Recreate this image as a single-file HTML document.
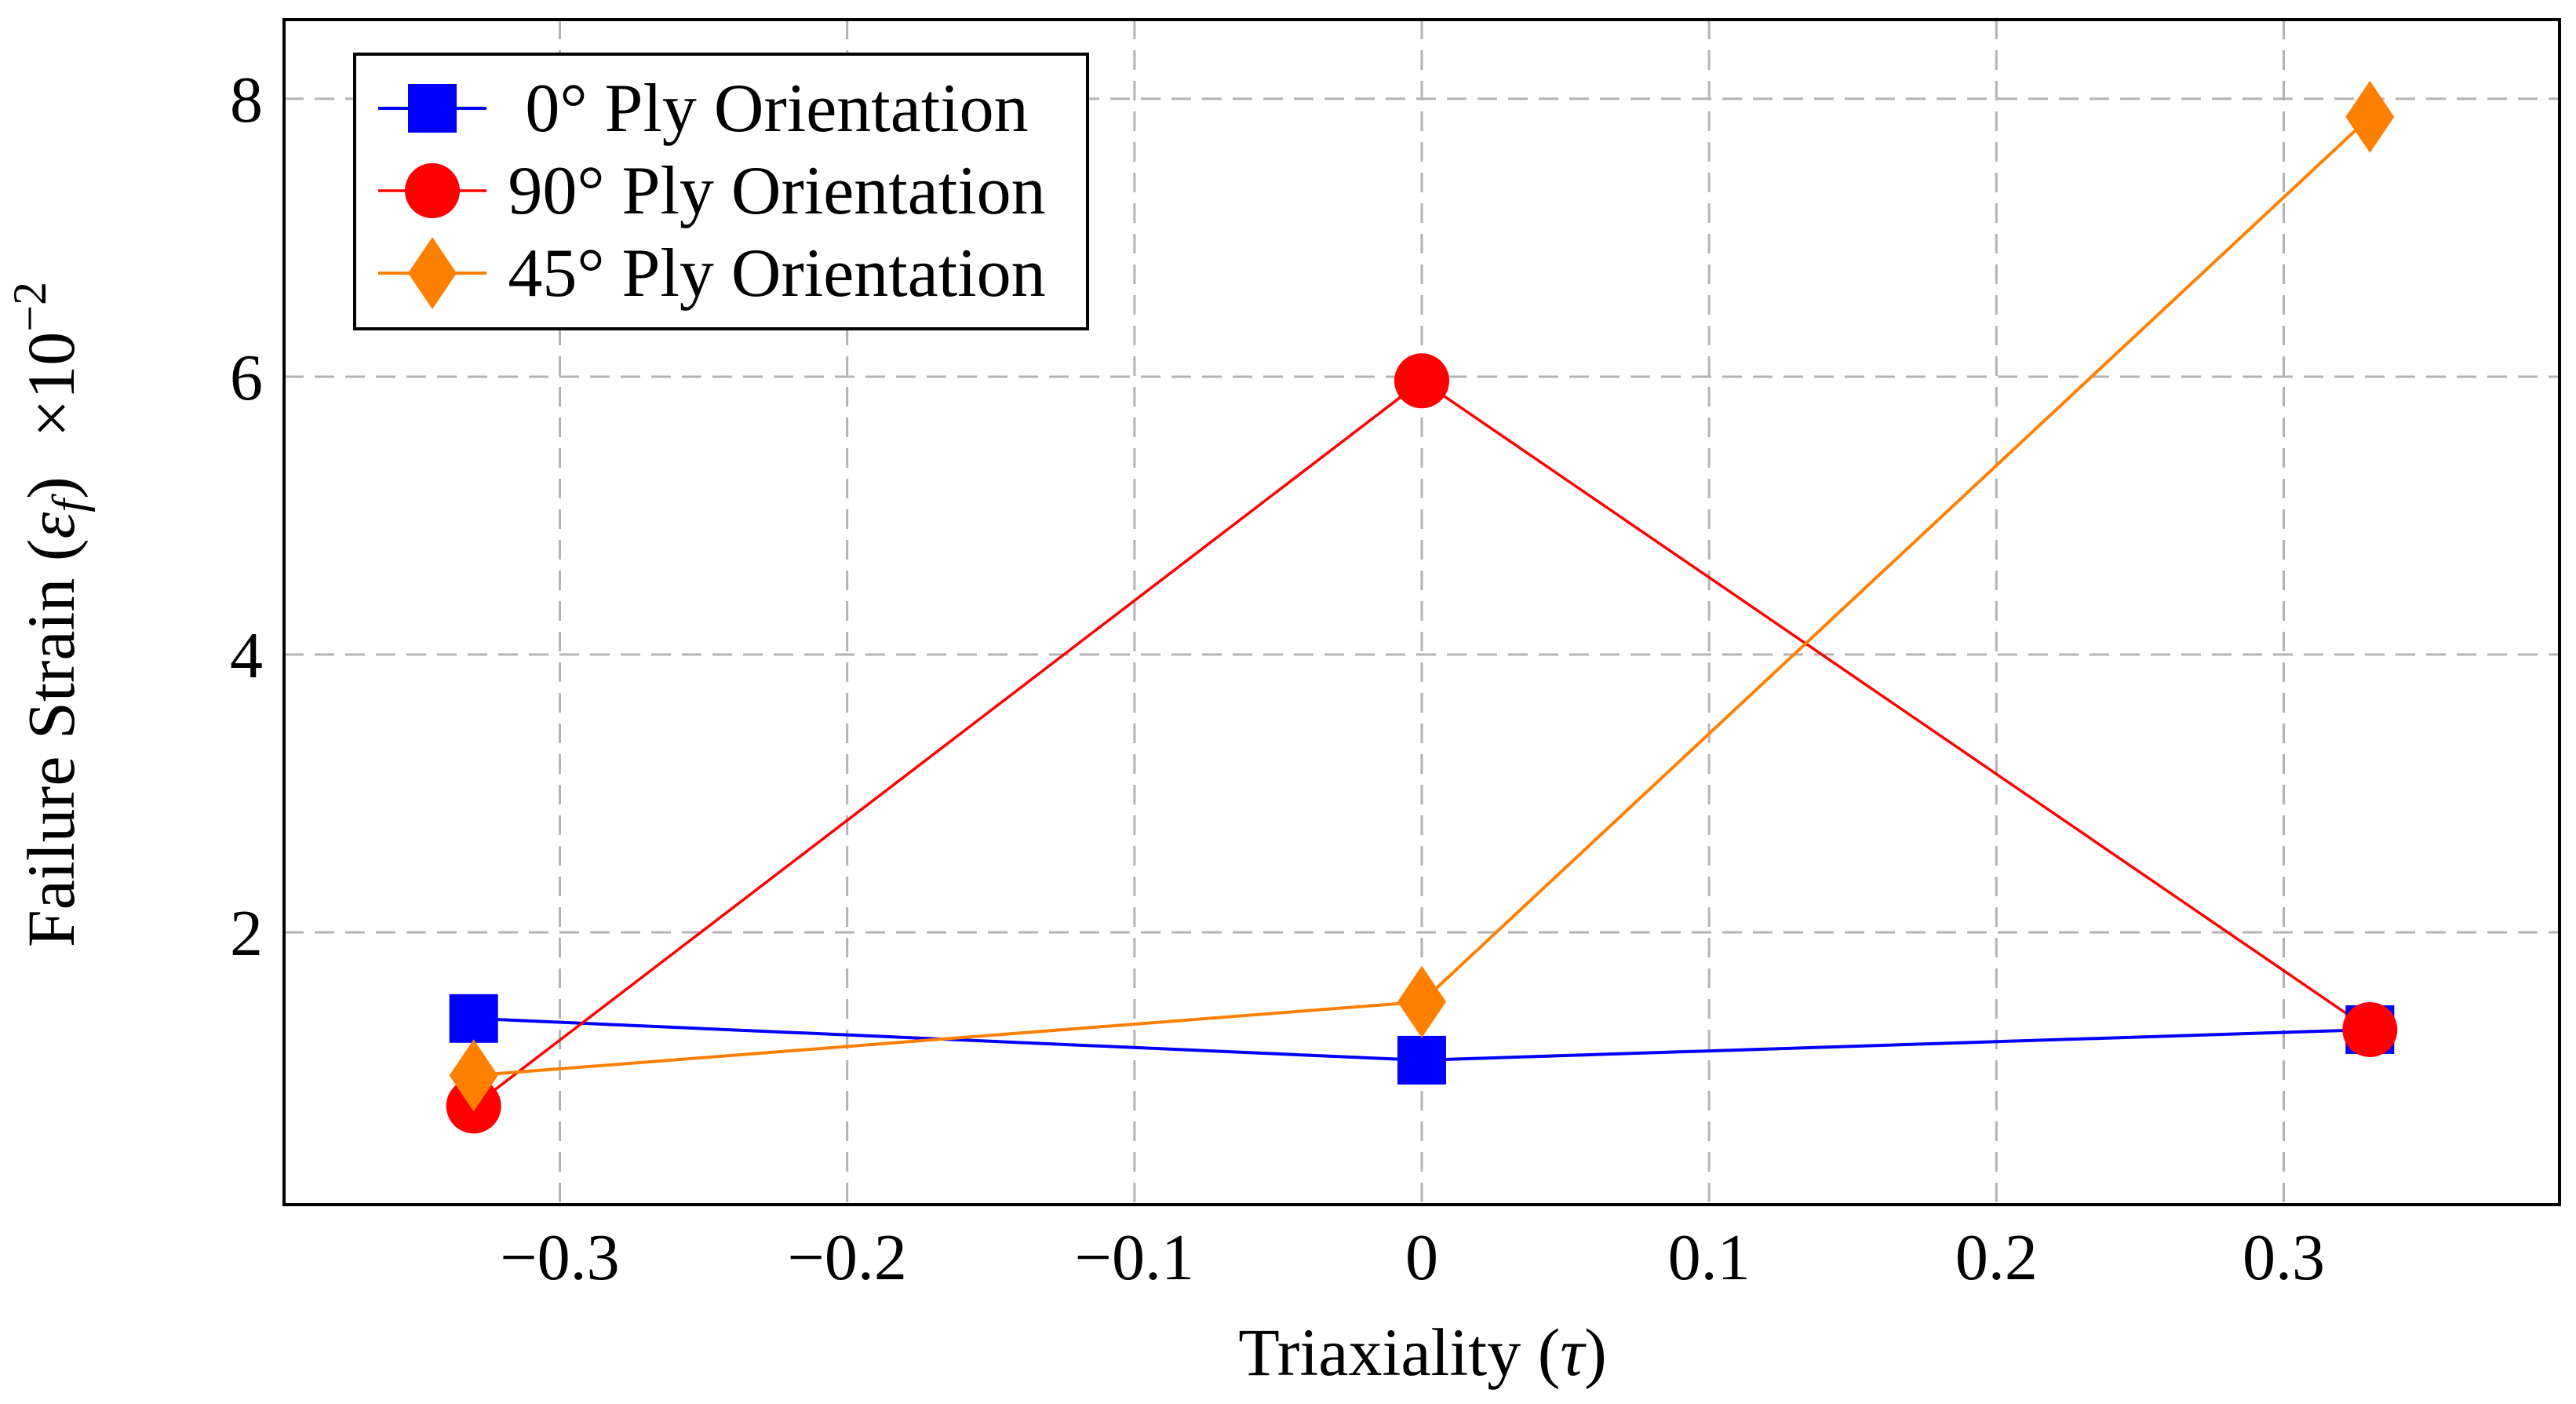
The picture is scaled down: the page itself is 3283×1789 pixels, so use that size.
<!DOCTYPE html>
<html><head><meta charset="utf-8"><style>
html,body{margin:0;padding:0;background:#fff;}
svg{display:block;font-family:"Liberation Serif",serif;}
</style></head><body>
<svg id="chart" width="3283" height="1789" viewBox="0 0 3283 1789" xmlns="http://www.w3.org/2000/svg">
<g id="grid"></g>
<g id="series"></g>
<rect x="362" y="25" width="2900" height="1510" fill="none" stroke="#000" stroke-width="4"/>
<g id="ticks"></g>
<text x="1813" y="1752" font-size="86" text-anchor="middle">Triaxiality (<tspan font-style="italic">τ</tspan>)</text>
<text transform="translate(94,783) rotate(-90)" font-size="86" text-anchor="middle">Failure Strain (<tspan font-style="italic">ε</tspan><tspan font-style="italic" font-size="60" dy="14">f</tspan><tspan dy="-14">)</tspan><tspan dx="50">×10</tspan><tspan font-size="60" dy="-36">−2</tspan></text>
<g id="legend">
<rect x="452" y="69" width="934" height="350" fill="#fff" stroke="#000" stroke-width="4"/>
</g>
</svg>
<script>
const categories=[-0.33,0,0.33];
const seriesNames=["0° Ply Orientation","90° Ply Orientation","45° Ply Orientation"];
const ply0=[1.38,1.08,1.3];
const ply90=[0.75,5.97,1.3];
const ply45=[0.97,1.5,7.87];
const xTicks=[-0.3,-0.2,-0.1,0,0.1,0.2,0.3];
const xTickLabels=["−0.3","−0.2","−0.1","0","0.1","0.2","0.3"];
const yTicks=[2,4,6,8];
const yTickLabels=["2","4","6","8"];

const NS="http://www.w3.org/2000/svg";
const X0=362,X1=3262,Y0=1535,Y1=25,xmin=-0.396,xmax=0.396,ymin=0.04,ymax=8.57;
function sx(v){return X0+(v-xmin)/(xmax-xmin)*(X1-X0);}
function sy(v){return Y0-(v-ymin)/(ymax-ymin)*(Y0-Y1);}
function mk(tag,attrs,parent){const e=document.createElementNS(NS,tag);for(const k in attrs)e.setAttribute(k,attrs[k]);parent.appendChild(e);return e;}
const grid=document.getElementById('grid'),ticks=document.getElementById('ticks'),ser=document.getElementById('series'),leg=document.getElementById('legend');
xTicks.forEach((t,i)=>{
  const l=mk('line',{x1:sx(t),x2:sx(t),y1:Y1,y2:Y0,stroke:'#b3b3b3','stroke-width':3,'stroke-dasharray':'25 14'},grid);
  
  
  const tx=mk('text',{x:sx(t),y:1630,'font-size':84,'text-anchor':'middle'},ticks);
  tx.textContent=xTickLabels[i];
  
  
});
yTicks.forEach((t,i)=>{
  const l=mk('line',{x1:X0,x2:X1,y1:sy(t),y2:sy(t),stroke:'#b3b3b3','stroke-width':3,'stroke-dasharray':'25 14'},grid);
  
  
  const tx=mk('text',{x:335,y:sy(t)+29,'font-size':84,'text-anchor':'end'},ticks);
  tx.textContent=yTickLabels[i];
  
  
});
function marker(kind,cx,cy,color,parent){
  let e;
  if(kind==='square')e=mk('rect',{x:cx-31,y:cy-31,width:62,height:62,fill:color},parent);
  else if(kind==='circle')e=mk('circle',{cx:cx,cy:cy,r:35,fill:color},parent);
  else e=mk('polygon',{points:`${cx},${cy-46} ${cx+31},${cy} ${cx},${cy+46} ${cx-31},${cy}`,fill:color},parent);
  return e;
}
const defs=[[ply0,'#0000ff','square',4,'series-0deg'],[ply90,'#ff0000','circle',3.5,'series-90deg'],[ply45,'#ff8000','diamond',4,'series-45deg']];
defs.forEach((d,si)=>{
  const [vals,color,kind,w,name]=d;
  const pts=categories.map((c,i)=>sx(c)+','+sy(vals[i])).join(' ');
  const pl=mk('polyline',{points:pts,fill:'none',stroke:color,'stroke-width':w},ser);
  
  
});
defs.forEach((d,si)=>{
  const [vals,color,kind,w,name]=d;
  categories.forEach((c,i)=>{
    const m=marker(kind,sx(c),sy(vals[i]),color,ser);
    
    
  });
  const ry=138+si*105;
  const ll=mk('line',{x1:482,x2:620,y1:ry,y2:ry,stroke:color,'stroke-width':w},leg);
  
  
  const lm=marker(kind,551,ry,color,leg);
  
  
  const lt=mk('text',{x:990,y:ry+29,'font-size':88,'text-anchor':'middle'},leg);
  lt.textContent=seriesNames[si];
  
  
});
</script>
</body></html>
